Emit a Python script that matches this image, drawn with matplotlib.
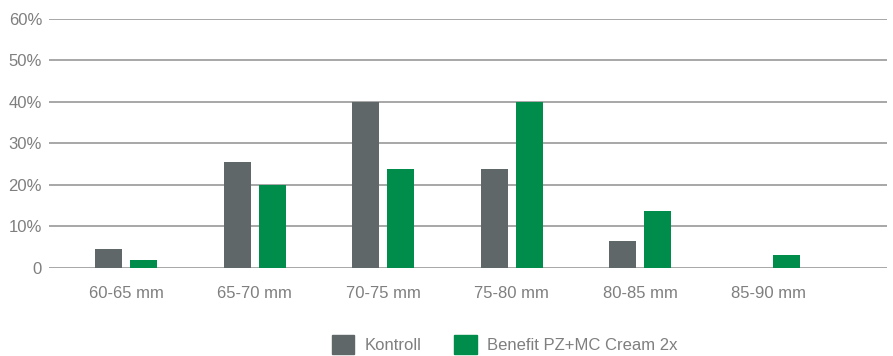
import matplotlib
matplotlib.use("Agg")
import matplotlib.pyplot as plt
from matplotlib.patches import Patch
import numpy as np

categories = ["60-65 mm", "65-70 mm", "70-75 mm", "75-80 mm", "80-85 mm", "85-90 mm"]
kontroll = [4.6, 25.5, 40.0, 23.8, 6.5, 0.0]
benefit = [1.9, 20.0, 23.8, 40.0, 13.7, 3.1]
series_names = ["Kontroll", "Benefit PZ+MC Cream 2x"]
yticks = [0, 10, 20, 30, 40, 50, 60]
ytick_labels = ["0", "10%", "20%", "30%", "40%", "50%", "60%"]

gray = "#5f6768"
green = "#008c4a"
text_col = "#7f7f7f"
grid_col = "#a0a0a0"

plt.rcParams['font.family'] = ['Liberation Sans', 'DejaVu Sans']

fig = plt.figure(figsize=(8.93, 3.56), dpi=100)
ax = fig.add_axes([0.0549, 0.2472, 0.9384, 0.7003])

x = np.arange(len(categories))
w = 0.21
off = 0.135
ax.bar(x - off, kontroll, width=w, color=gray, zorder=3)
ax.bar(x + off, benefit, width=w, color=green, zorder=3)

for v in yticks:
    ax.axhline(v, color=grid_col, lw=1.3, zorder=1)

ax.set_xlim(-0.6, 5.92)
ax.set_ylim(0, 60)
ax.set_yticks(yticks)
ax.set_yticklabels(ytick_labels)
ax.set_xticks(x)
ax.set_xticklabels(categories)
ax.tick_params(axis='both', length=0, colors=text_col, labelsize=12)
ax.tick_params(axis='x', pad=13)
ax.tick_params(axis='y', pad=5)
for s in ax.spines.values():
    s.set_visible(False)

handles = [Patch(color=gray, label=series_names[0]), Patch(color=green, label=series_names[1])]
leg = fig.legend(handles=handles, loc='center', bbox_to_anchor=(0.565, 0.033), ncol=2,
                 frameon=False, fontsize=12, handlelength=1.35, handleheight=1.35,
                 columnspacing=2.0, handletextpad=0.6, labelcolor=text_col)

fig.savefig("out.png", dpi=100)
